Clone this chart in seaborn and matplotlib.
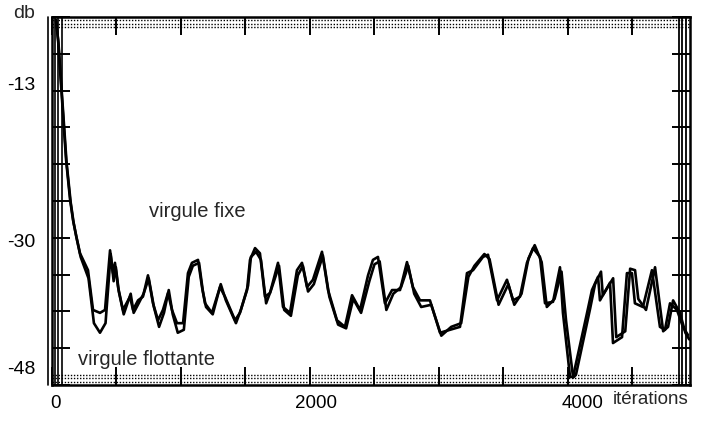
import matplotlib
matplotlib.use("Agg")
import matplotlib.pyplot as plt
import matplotlib.transforms as mtransforms
from matplotlib.ticker import FixedLocator
import seaborn as sns
import pandas as pd

# ---- data ----
fixe_iter = [31, 47, 78, 109, 140, 163, 186, 217, 279, 318, 372, 411, 450, 473, 488, 512, 550,
             605, 628, 667, 705, 744, 783, 822, 860, 899, 930, 969, 1016, 1054, 1085, 1132, 1163,
             1186, 1240, 1302, 1341, 1419, 1457, 1512, 1535, 1574, 1612, 1651, 1690, 1752, 1791,
             1845, 1899, 1938, 1977, 2023, 2093, 2140, 2209, 2271, 2326, 2388, 2450, 2488, 2527,
             2581, 2636, 2698, 2752, 2798, 2853, 2930, 3008, 3085, 3163, 3217, 3264, 3341, 3380,
             3450, 3527, 3574, 3628, 3682, 3729, 3783, 3822, 3884, 3938, 3961, 4016, 4039, 4148,
             4186, 4233, 4248, 4326, 4349, 4419, 4457, 4496, 4519, 4581, 4651, 4713, 4752, 4791,
             4845, 4891, 4930]
fixe_db = [-0.4, -3.1, -11.3, -19.4, -24.8, -27.6, -29.6, -32.1, -34.4, -39.8, -40.2, -39.8, -31.7,
           -34.8, -33.4, -36.7, -39.8, -38.0, -39.8, -38.5, -38.0, -35.1, -38.9, -41.2, -39.8, -37.5,
           -39.8, -41.6, -41.6, -34.8, -33.4, -33.0, -36.7, -38.9, -40.2, -36.7, -38.0, -41.2, -40.2,
           -37.1, -33.0, -31.4, -32.1, -38.0, -37.5, -33.4, -39.4, -40.2, -34.4, -33.4, -36.7, -35.7,
           -31.9, -37.1, -41.2, -42.1, -37.8, -39.8, -35.1, -33.0, -32.6, -38.9, -37.1, -37.1, -33.3,
           -36.7, -38.5, -38.5, -42.9, -42.5, -42.1, -34.8, -34.4, -32.6, -32.3, -38.5, -35.7, -38.5,
           -38.0, -33.4, -31.4, -32.6, -38.9, -38.7, -34.0, -40.2, -48.9, -48.9, -40.2, -37.1, -35.3,
           -38.5, -36.1, -44.3, -43.5, -34.8, -34.8, -38.9, -39.4, -34.4, -42.1, -42.5, -38.9, -39.8,
           -42.1, -43.2]

flot_iter = [31, 50, 82, 113, 145, 168, 190, 222, 283, 325, 372, 415, 455, 478, 495, 518, 556,
             610, 633, 672, 710, 750, 790, 830, 868, 905, 936, 975, 1022, 1060, 1092, 1140, 1170,
             1194, 1246, 1308, 1348, 1426, 1464, 1520, 1542, 1582, 1620, 1660, 1698, 1760, 1800,
             1852, 1906, 1945, 1985, 2030, 2100, 2150, 2218, 2280, 2335, 2396, 2460, 2500, 2540,
             2592, 2646, 2706, 2762, 2808, 2862, 2940, 3018, 3095, 3172, 3228, 3275, 3352, 3392,
             3462, 3538, 3584, 3640, 3694, 3742, 3796, 3836, 3896, 3950, 3985, 4040, 4062, 4172,
             4210, 4256, 4270, 4350, 4374, 4444, 4482, 4520, 4545, 4605, 4675, 4738, 4776, 4815,
             4868, 4910, 4940]
flot_db = [-0.4, -3.5, -11.8, -19.8, -25.2, -28.0, -30.0, -32.6, -35.5, -41.6, -42.9, -41.6, -32.2,
           -35.9, -34.0, -37.3, -40.4, -37.6, -40.2, -38.9, -37.6, -35.5, -39.4, -42.1, -40.2, -37.1,
           -40.4, -42.9, -42.5, -35.3, -33.8, -33.4, -37.3, -39.4, -40.4, -36.3, -38.5, -41.6, -39.8,
           -36.5, -32.6, -31.9, -33.0, -38.9, -37.1, -33.8, -39.8, -40.6, -35.1, -33.8, -37.3, -36.3,
           -32.4, -38.0, -41.8, -42.3, -38.3, -40.2, -35.9, -33.6, -33.2, -39.8, -37.6, -36.7, -33.8,
           -37.6, -39.4, -39.1, -43.3, -42.1, -41.6, -35.3, -33.8, -32.2, -32.9, -39.1, -36.3, -39.1,
           -37.6, -32.8, -31.0, -33.3, -39.4, -38.3, -34.6, -41.2, -49.0, -48.6, -39.6, -36.3, -34.6,
           -37.8, -35.5, -43.5, -42.7, -34.2, -34.4, -38.3, -39.8, -34.0, -42.7, -42.1, -38.5, -40.2,
           -42.9, -43.8]

x_ticks = [0, 500, 1000, 1500, 2000, 2500, 3000, 3500, 4000, 4500]
x_tick_labels = ["0", "", "", "", "2000", "", "", "", "4000", ""]
y_minor_ticks = [0, -5, -10, -15, -20, -25, -30, -35, -40, -45, -50]
y_label_pos = [-9.0, -30.3, -47.6]
y_labels = ["-13", "-30", "-48"]

# ---- figure ----
sns.set_theme(style="white")
plt.rcParams["font.family"] = ["Liberation Sans", "DejaVu Sans"]

fig = plt.figure(figsize=(7.01, 4.21), dpi=100)
ax = fig.add_axes([52 / 701, 1 - 385 / 421, (690 - 52) / 701, (385 - 17) / 421])

df = pd.concat([
    pd.DataFrame({"it": fixe_iter, "db": fixe_db, "s": "fixe"}),
    pd.DataFrame({"it": flot_iter, "db": flot_db, "s": "flottante"}),
])
sns.lineplot(data=df, x="it", y="db", units="s", estimator=None, sort=False,
             color="black", lw=1.9, ax=ax, legend=False)

ax.set_xlim(0, 4946)
ax.set_ylim(-50, 0)
ax.set_xlabel("")
ax.set_ylabel("")

# frame
for sp in ax.spines.values():
    sp.set_color("black")
    sp.set_linewidth(1.8)

# extra frame lines (left and right bands)
for xf in [-0.006, 0.005, 0.010, 0.015]:
    ax.axvline(xf * 4946, color="black", lw=1.2, clip_on=False)
for xf in [0.982, 0.988, 0.994]:
    ax.axvline(xf * 4946, color="black", lw=1.3)
# dotted bands at top and bottom
for yv in [-0.45, -0.95, -1.4]:
    ax.axhline(yv, color="black", lw=1.0, ls=(0, (1, 1.2)))
for yv in [-48.6, -49.1, -49.6]:
    ax.axhline(yv, color="black", lw=1.0, ls=(0, (1, 1.2)))

# x ticks
ax.set_xticks(x_ticks)
ax.set_xticklabels(x_tick_labels, fontsize=13.5)
ax.tick_params(axis="x", which="major", direction="in", length=13, width=1.4,
               top=True, bottom=True, pad=7, colors="black")
offsets = {"0": 0.03, "2000": 0.06, "4000": 0.15}
for lab in ax.get_xticklabels():
    t = lab.get_text()
    if t in offsets:
        lab.set_transform(lab.get_transform() +
                          mtransforms.ScaledTranslation(offsets[t], 0, fig.dpi_scale_trans))

# y ticks
ax.yaxis.set_major_locator(FixedLocator(y_label_pos))
ax.set_yticklabels(y_labels, fontsize=14)
ax.yaxis.set_minor_locator(FixedLocator(y_minor_ticks))
ax.tick_params(axis="y", which="major", length=0, pad=12, colors="black")
ax.tick_params(axis="y", which="minor", direction="in", length=13, width=1.4,
               left=True, right=True, color="black")

# texts
ax.text(752, -26.4, "virgule fixe", fontsize=14.5, va="center", ha="left")
ax.text(202, -46.5, "virgule flottante", fontsize=14.5, va="center", ha="left")
fig.text(24 / 701, 1 - 13 / 421, "db", fontsize=14, ha="center", va="center")
fig.text(613 / 701, 1 - 400 / 421, "itérations", fontsize=13.5, ha="left", va="center")

fig.savefig("out.png", dpi=100)
